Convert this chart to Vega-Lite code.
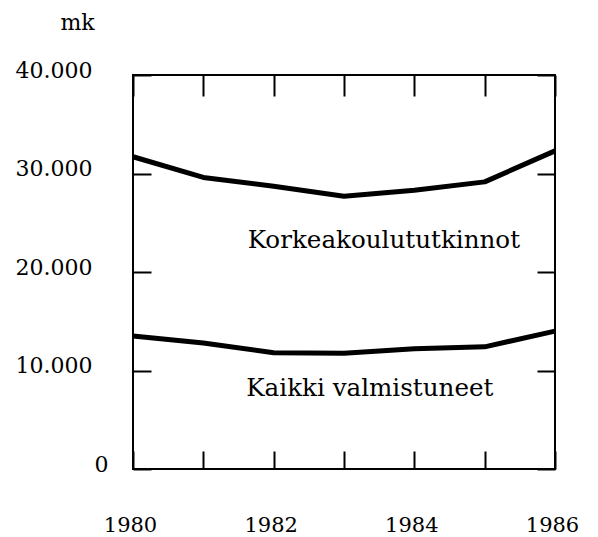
{
  "$schema": "https://vega.github.io/schema/vega-lite/v6.json",
  "width": 422,
  "height": 394,
  "autosize": {"type": "none"},
  "padding": {"left": 133, "top": 75, "right": 43, "bottom": 68},
  "background": "white",
  "config": {
    "view": {"stroke": "black", "strokeWidth": 2},
    "font": "DejaVu Serif",
    "axis": {
      "domain": false,
      "grid": false,
      "tickColor": "black",
      "tickWidth": 2,
      "labelColor": "black",
      "labelFont": "DejaVu Serif",
      "labelFontSize": 22,
      "titleFont": "DejaVu Serif",
      "titleFontSize": 22,
      "titleFontWeight": "normal",
      "titleColor": "black"
    }
  },
  "datasets": {
    "series": [
      {"year": 1980, "value": 31700, "group": "Korkeakoulututkinnot"},
      {"year": 1981, "value": 29600, "group": "Korkeakoulututkinnot"},
      {"year": 1982, "value": 28700, "group": "Korkeakoulututkinnot"},
      {"year": 1983, "value": 27700, "group": "Korkeakoulututkinnot"},
      {"year": 1984, "value": 28300, "group": "Korkeakoulututkinnot"},
      {"year": 1985, "value": 29150, "group": "Korkeakoulututkinnot"},
      {"year": 1986, "value": 32300, "group": "Korkeakoulututkinnot"},
      {"year": 1980, "value": 13500, "group": "Kaikki valmistuneet"},
      {"year": 1981, "value": 12800, "group": "Kaikki valmistuneet"},
      {"year": 1982, "value": 11800, "group": "Kaikki valmistuneet"},
      {"year": 1983, "value": 11750, "group": "Kaikki valmistuneet"},
      {"year": 1984, "value": 12200, "group": "Kaikki valmistuneet"},
      {"year": 1985, "value": 12400, "group": "Kaikki valmistuneet"},
      {"year": 1986, "value": 14000, "group": "Kaikki valmistuneet"}
    ],
    "labels": [
      {"year": 1981.63, "value": 22440, "text": "Korkeakoulututkinnot"},
      {"year": 1981.61, "value": 7410, "text": "Kaikki valmistuneet"}
    ]
  },
  "layer": [
    {
      "data": {"name": "series"},
      "mark": {"type": "line", "color": "black", "strokeWidth": 5, "strokeJoin": "round"},
      "encoding": {
        "x": {
          "field": "year", "type": "quantitative",
          "scale": {"domain": [1980, 1986], "nice": false, "zero": false},
          "axis": {
            "orient": "bottom", "title": null,
            "values": [1980, 1981, 1982, 1983, 1984, 1985, 1986],
            "labelExpr": "datum.value % 2 === 0 ? format(datum.value, 'd') : ''",
            "tickSize": -18,
            "labelFontSize": 21,
            "labelBaseline": "alphabetic",
            "labelPadding": 80,
            "labelOffset": -3,
            "labelFlush": false,
            "labelOverlap": false
          }
        },
        "y": {
          "field": "value", "type": "quantitative",
          "scale": {"domain": [0, 40000], "nice": false},
          "axis": {
            "orient": "left",
            "values": [0, 10000, 20000, 30000, 40000],
            "labelExpr": "replace(format(datum.value, ','), ',', '.')",
            "tickSize": -18,
            "labelAlign": "right",
            "labelBaseline": "middle",
            "labelOffset": -5,
            "labelPadding": {"condition": {"test": "datum.value === 0", "value": 43}, "value": 59},
            "labelFlush": false,
            "labelOverlap": false,
            "title": "mk",
            "titleAngle": 0,
            "titleAlign": "left",
            "titleBaseline": "alphabetic",
            "titleX": -73,
            "titleY": -46
          }
        },
        "detail": {"field": "group"}
      }
    },
    {
      "data": {"name": "labels"},
      "mark": {"type": "text", "align": "left", "baseline": "alphabetic", "font": "DejaVu Serif", "fontSize": 24.6, "color": "black"},
      "encoding": {
        "x": {
          "field": "year", "type": "quantitative",
          "axis": {
            "orient": "top", "title": null, "labels": false,
            "values": [1980, 1981, 1982, 1983, 1984, 1985, 1986],
            "tickSize": -21
          }
        },
        "y": {
          "field": "value", "type": "quantitative",
          "axis": {
            "orient": "right", "title": null, "labels": false,
            "values": [0, 10000, 20000, 30000, 40000],
            "tickSize": -18
          }
        },
        "text": {"field": "text"}
      }
    }
  ],
  "resolve": {"axis": {"x": "independent", "y": "independent"}}
}
